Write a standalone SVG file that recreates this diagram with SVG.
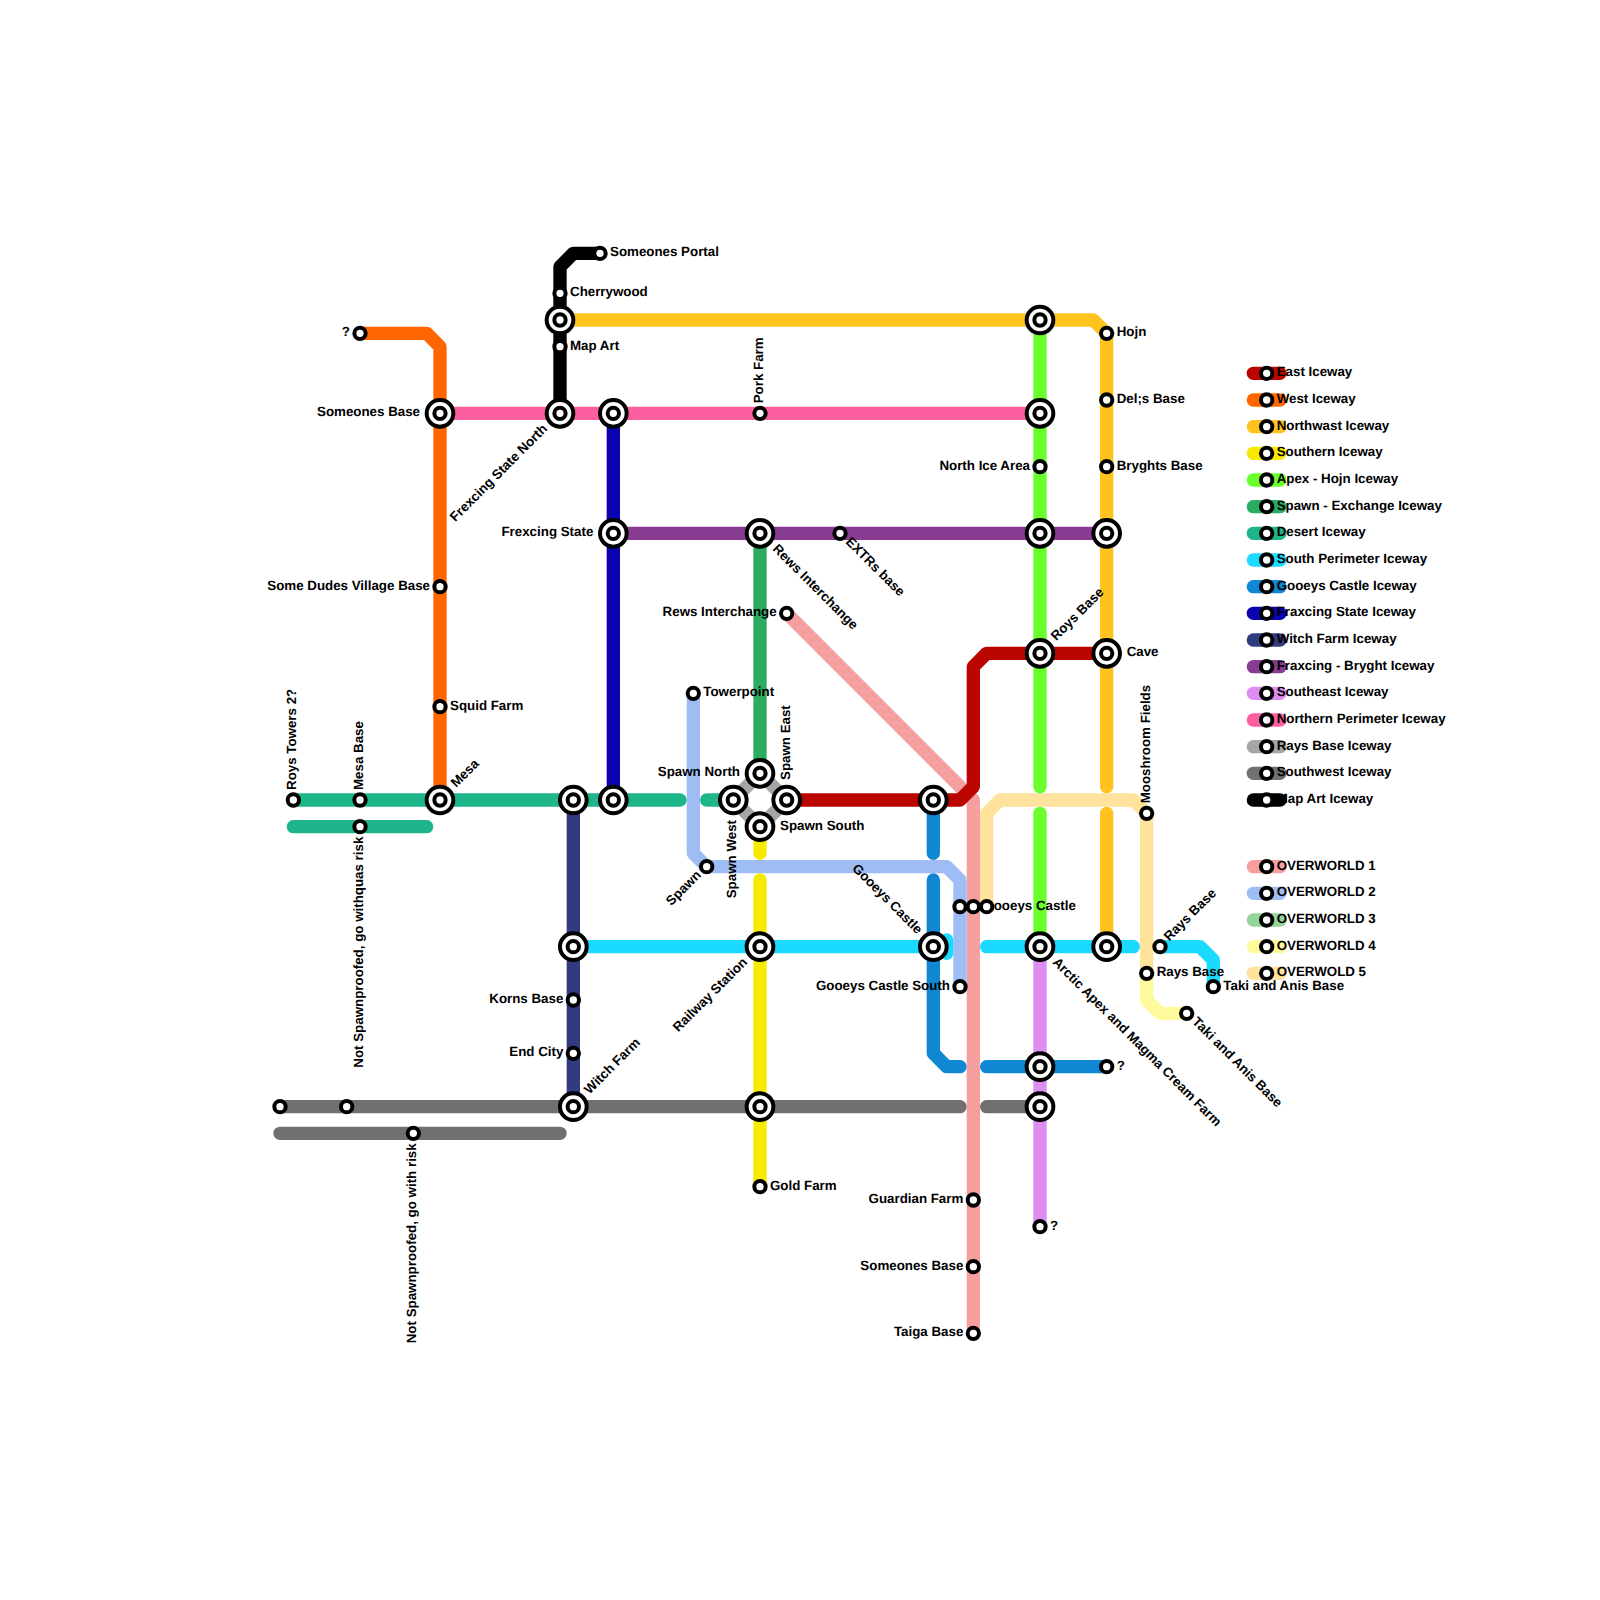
<svg xmlns="http://www.w3.org/2000/svg" width="1600" height="1600" viewBox="0 0 1600 1600">
<style>
.l{fill:none;stroke-width:1;stroke-linecap:round;stroke-linejoin:round}
.a{stroke:#bb0600}.b{stroke:#ff6600}.c{stroke:#ffc31f}.d{stroke:#f5ea00}.e{stroke:#6aff2c}.f{stroke:#2bac60}.g{stroke:#1fb58a}.h{stroke:#1adbff}.i{stroke:#0f87d2}.j{stroke:#0a04b0}.k{stroke:#323b80}.m{stroke:#873c92}.n{stroke:#dd8cf2}.o{stroke:#fb5f9f}.p{stroke:#a6a6a6}.q{stroke:#707070}.r{stroke:#000}.s{stroke:#f59f9f}.t{stroke:#9fbdf5}.u{stroke:#93d69b}.v{stroke:#fffa9b}.w{stroke:#ffe29b}
.st{fill:#fff;stroke:#000;stroke-width:4}
text{font-family:"Liberation Sans",Arial,sans-serif;font-weight:bold;font-size:13.33px;fill:#000;text-rendering:geometricPrecision}
.R{text-anchor:start}.E{text-anchor:end}
</style>
<defs>
<circle id="s" class="st" r="5.67"/>
<g id="x"><circle class="st" r="13.33"/><circle class="st" r="5.67"/></g>
</defs>
<rect width="1600" height="1600" fill="#fff"/>
<g id="connectors" transform="scale(13.33333)">
<path class="l s" d="M59 46L73 60V100"/>
<path class="l t" d="M52 52V64L53 65H71L72 66V74"/>
<path class="l v" d="M86 73V75L87 76H89"/>
<path class="l w" d="M74 68V61L75 60H85L86 61V73"/>
<path class="l e" d="M78 24V59M78 61V71"/>
<path class="l n" d="M78 71V92"/>
<path class="l a" d="M59 60H72L73 59V50L74 49H83"/>
<path class="l b" d="M27 25H32L33 26V60"/>
<path class="l c" d="M42 24H82L83 25V59M83 61V71"/>
<path class="l d" d="M57 62V64M57 66V89"/>
<path class="l f" d="M57 40V58"/>
<path class="l g" d="M22 60H51M53 60H55M22 62H32"/>
<path class="l h" d="M43 71H71M71 70.5V71.5M74 71H85M87 71H90L91 72V74"/>
<path class="l i" d="M70 60V64M70 66V79L71 80H72M74 80H83"/>
<path class="l j" d="M46 31V60"/>
<path class="l k" d="M43 60V83"/>
<path class="l m" d="M46 40H83"/>
<path class="l o" d="M33 31H78"/>
<path class="l p" d="M57 58L59 60L57 62L55 60Z"/>
<path class="l q" d="M21 83H72M74 83H78M21 85H42"/>
<path class="l r" d="M42 31V20L43 19H45"/>
</g>
<g id="nodes">
<g id="n-portal" transform="translate(600,253.33)"><use href="#s"/><text x="10" y="3">Someones Portal</text></g>
<g id="n-cherrywood" transform="translate(560,293.33)"><use href="#s"/><text x="10" y="3">Cherrywood</text></g>
<g id="n-42-24" transform="translate(560,320)"><use href="#x"/></g>
<g id="n-mapart" transform="translate(560,346.67)"><use href="#s"/><text x="10" y="3">Map Art</text></g>
<g id="n-q1" transform="translate(360,333.33)"><use href="#s"/><text class="E" x="-10" y="3">?</text></g>
<g id="n-78-24" transform="translate(1040,320)"><use href="#x"/></g>
<g id="n-hojn" transform="translate(1106.67,333.33)"><use href="#s"/><text x="10" y="3">Hojn</text></g>
<g id="n-del" transform="translate(1106.67,400)"><use href="#s"/><text x="10" y="3">Del;s Base</text></g>
<g id="n-bryghts" transform="translate(1106.67,466.67)"><use href="#s"/><text x="10" y="3">Bryghts Base</text></g>
<g id="n-someones" transform="translate(440,413.33)"><use href="#x"/><text class="E" x="-20" y="3">Someones Base</text></g>
<g id="n-fsn" transform="translate(560,413.33)"><use href="#x"/><text class="E" transform="rotate(-45)" x="-20" y="3">Frexcing State North</text></g>
<g id="n-46-31" transform="translate(613.33,413.33)"><use href="#x"/></g>
<g id="n-pork" transform="translate(760,413.33)"><use href="#s"/><text transform="rotate(-90)" x="10" y="3">Pork Farm</text></g>
<g id="n-78-31" transform="translate(1040,413.33)"><use href="#x"/></g>
<g id="n-northice" transform="translate(1040,466.67)"><use href="#s"/><text class="E" x="-10" y="3">North Ice Area</text></g>
<g id="n-fs" transform="translate(613.33,533.33)"><use href="#x"/><text class="E" x="-20" y="3">Frexcing State</text></g>
<g id="n-rews" transform="translate(760,533.33)"><use href="#x"/><text transform="rotate(45)" x="20" y="3">Rews Interchange</text></g>
<g id="n-extrs" transform="translate(840,533.33)"><use href="#s"/><text transform="rotate(45)" x="10" y="3">EXTRs base</text></g>
<g id="n-78-40" transform="translate(1040,533.33)"><use href="#x"/></g>
<g id="n-83-40" transform="translate(1106.67,533.33)"><use href="#x"/></g>
<g id="n-dudes" transform="translate(440,586.67)"><use href="#s"/><text class="E" x="-10" y="3">Some Dudes Village Base</text></g>
<g id="n-rews2" transform="translate(786.67,613.33)"><use href="#s"/><text class="E" x="-10" y="3">Rews Interchange</text></g>
<g id="n-roys" transform="translate(1040,653.33)"><use href="#x"/><text transform="rotate(-45)" x="20" y="3">Roys Base</text></g>
<g id="n-cave" transform="translate(1106.67,653.33)"><use href="#x"/><text x="20" y="3">Cave</text></g>
<g id="n-tower" transform="translate(693.33,693.33)"><use href="#s"/><text x="10" y="3">Towerpoint</text></g>
<g id="n-squid" transform="translate(440,706.67)"><use href="#s"/><text x="10" y="3">Squid Farm</text></g>
<g id="n-spawnn" transform="translate(760,773.33)"><use href="#x"/><text class="E" x="-20" y="3">Spawn North</text></g>
<g id="n-spawnw" transform="translate(733.33,800)"><use href="#x"/><text class="E" transform="rotate(-90)" x="-20" y="3">Spawn West</text></g>
<g id="n-spawne" transform="translate(786.67,800)"><use href="#x"/><text transform="rotate(-90)" x="20" y="3">Spawn East</text></g>
<g id="n-spawns" transform="translate(760,826.67)"><use href="#x"/><text x="20" y="3">Spawn South</text></g>
<g id="n-royst" transform="translate(293.33,800)"><use href="#s"/><text transform="rotate(-90)" x="10" y="3">Roys Towers 2?</text></g>
<g id="n-mesab" transform="translate(360,800)"><use href="#s"/><text transform="rotate(-90)" x="10" y="3">Mesa Base</text></g>
<g id="n-mesa" transform="translate(440,800)"><use href="#x"/><text transform="rotate(-45)" x="20" y="3">Mesa</text></g>
<g id="n-43-60" transform="translate(573.33,800)"><use href="#x"/></g>
<g id="n-46-60" transform="translate(613.33,800)"><use href="#x"/></g>
<g id="n-70-60" transform="translate(933.33,800)"><use href="#x"/></g>
<g id="n-moosh" transform="translate(1146.67,813.33)"><use href="#s"/><text transform="rotate(-90)" x="10" y="3">Mooshroom Fields</text></g>
<g id="n-nsp1" transform="translate(360,826.67)"><use href="#s"/><text class="E" transform="rotate(-90)" x="-10" y="3">Not Spawnproofed, go withquas risk</text></g>
<g id="n-spawn" transform="translate(706.67,866.67)"><use href="#s"/><text class="E" transform="rotate(-45)" x="-10" y="3">Spawn</text></g>
<g id="n-72-68" transform="translate(960,906.67)"><use href="#s"/></g>
<g id="n-gc2" transform="translate(973.33,906.67)"><use href="#s"/><text x="10" y="3">Gooeys Castle</text></g>
<g id="n-74-68" transform="translate(986.67,906.67)"><use href="#s"/></g>
<g id="n-43-71" transform="translate(573.33,946.67)"><use href="#x"/></g>
<g id="n-rail" transform="translate(760,946.67)"><use href="#x"/><text class="E" transform="rotate(-45)" x="-20" y="3">Railway Station</text></g>
<g id="n-gc" transform="translate(933.33,946.67)"><use href="#x"/><text class="E" transform="rotate(45)" x="-20" y="3">Gooeys Castle</text></g>
<g id="n-arctic" transform="translate(1040,946.67)"><use href="#x"/><text transform="rotate(45)" x="20" y="3">Arctic Apex and Magma Cream Farm</text></g>
<g id="n-83-71" transform="translate(1106.67,946.67)"><use href="#x"/></g>
<g id="n-rays1" transform="translate(1160,946.67)"><use href="#s"/><text transform="rotate(-45)" x="10" y="3">Rays Base</text></g>
<g id="n-rays2" transform="translate(1146.67,973.33)"><use href="#s"/><text x="10" y="3">Rays Base</text></g>
<g id="n-gcs" transform="translate(960,986.67)"><use href="#s"/><text class="E" x="-10" y="3">Gooeys Castle South</text></g>
<g id="n-taki1" transform="translate(1213.33,986.67)"><use href="#s"/><text x="10" y="3">Taki and Anis Base</text></g>
<g id="n-taki2" transform="translate(1186.67,1013.33)"><use href="#s"/><text transform="rotate(45)" x="10" y="3">Taki and Anis Base</text></g>
<g id="n-korns" transform="translate(573.33,1000)"><use href="#s"/><text class="E" x="-10" y="3">Korns Base</text></g>
<g id="n-end" transform="translate(573.33,1053.33)"><use href="#s"/><text class="E" x="-10" y="3">End City</text></g>
<g id="n-78-80" transform="translate(1040,1066.67)"><use href="#x"/></g>
<g id="n-q2" transform="translate(1106.67,1066.67)"><use href="#s"/><text x="10" y="3">?</text></g>
<g id="n-21-83" transform="translate(280,1106.67)"><use href="#s"/></g>
<g id="n-26-83" transform="translate(346.67,1106.67)"><use href="#s"/></g>
<g id="n-witch" transform="translate(573.33,1106.67)"><use href="#x"/><text transform="rotate(-45)" x="20" y="3">Witch Farm</text></g>
<g id="n-57-83" transform="translate(760,1106.67)"><use href="#x"/></g>
<g id="n-78-83" transform="translate(1040,1106.67)"><use href="#x"/></g>
<g id="n-nsp2" transform="translate(413.33,1133.33)"><use href="#s"/><text class="E" transform="rotate(-90)" x="-10" y="3">Not Spawnproofed, go with risk</text></g>
<g id="n-gold" transform="translate(760,1186.67)"><use href="#s"/><text x="10" y="3">Gold Farm</text></g>
<g id="n-guardian" transform="translate(973.33,1200)"><use href="#s"/><text class="E" x="-10" y="3">Guardian Farm</text></g>
<g id="n-q3" transform="translate(1040,1226.67)"><use href="#s"/><text x="10" y="3">?</text></g>
<g id="n-someones2" transform="translate(973.33,1266.67)"><use href="#s"/><text class="E" x="-10" y="3">Someones Base</text></g>
<g id="n-taiga" transform="translate(973.33,1333.33)"><use href="#s"/><text class="E" x="-10" y="3">Taiga Base</text></g>
</g>
<g id="legend">
<g transform="translate(1266.67,373.33)"><path class="l a" transform="scale(13.33333)" d="M-1 0H1"/><use href="#s"/><text x="10" y="3">East Iceway</text></g>
<g transform="translate(1266.67,400)"><path class="l b" transform="scale(13.33333)" d="M-1 0H1"/><use href="#s"/><text x="10" y="3">West Iceway</text></g>
<g transform="translate(1266.67,426.67)"><path class="l c" transform="scale(13.33333)" d="M-1 0H1"/><use href="#s"/><text x="10" y="3">Northwast Iceway</text></g>
<g transform="translate(1266.67,453.33)"><path class="l d" transform="scale(13.33333)" d="M-1 0H1"/><use href="#s"/><text x="10" y="3">Southern Iceway</text></g>
<g transform="translate(1266.67,480)"><path class="l e" transform="scale(13.33333)" d="M-1 0H1"/><use href="#s"/><text x="10" y="3">Apex - Hojn Iceway</text></g>
<g transform="translate(1266.67,506.67)"><path class="l f" transform="scale(13.33333)" d="M-1 0H1"/><use href="#s"/><text x="10" y="3">Spawn - Exchange Iceway</text></g>
<g transform="translate(1266.67,533.33)"><path class="l g" transform="scale(13.33333)" d="M-1 0H1"/><use href="#s"/><text x="10" y="3">Desert Iceway</text></g>
<g transform="translate(1266.67,560)"><path class="l h" transform="scale(13.33333)" d="M-1 0H1"/><use href="#s"/><text x="10" y="3">South Perimeter Iceway</text></g>
<g transform="translate(1266.67,586.67)"><path class="l i" transform="scale(13.33333)" d="M-1 0H1"/><use href="#s"/><text x="10" y="3">Gooeys Castle Iceway</text></g>
<g transform="translate(1266.67,613.33)"><path class="l j" transform="scale(13.33333)" d="M-1 0H1"/><use href="#s"/><text x="10" y="3">Fraxcing State Iceway</text></g>
<g transform="translate(1266.67,640)"><path class="l k" transform="scale(13.33333)" d="M-1 0H1"/><use href="#s"/><text x="10" y="3">Witch Farm Iceway</text></g>
<g transform="translate(1266.67,666.67)"><path class="l m" transform="scale(13.33333)" d="M-1 0H1"/><use href="#s"/><text x="10" y="3">Fraxcing - Bryght Iceway</text></g>
<g transform="translate(1266.67,693.33)"><path class="l n" transform="scale(13.33333)" d="M-1 0H1"/><use href="#s"/><text x="10" y="3">Southeast Iceway</text></g>
<g transform="translate(1266.67,720)"><path class="l o" transform="scale(13.33333)" d="M-1 0H1"/><use href="#s"/><text x="10" y="3">Northern Perimeter Iceway</text></g>
<g transform="translate(1266.67,746.67)"><path class="l p" transform="scale(13.33333)" d="M-1 0H1"/><use href="#s"/><text x="10" y="3">Rays Base Iceway</text></g>
<g transform="translate(1266.67,773.33)"><path class="l q" transform="scale(13.33333)" d="M-1 0H1"/><use href="#s"/><text x="10" y="3">Southwest Iceway</text></g>
<g transform="translate(1266.67,800)"><path class="l r" transform="scale(13.33333)" d="M-1 0H1"/><use href="#s"/><text x="10" y="3">Map Art Iceway</text></g>
<g transform="translate(1266.67,866.67)"><path class="l s" transform="scale(13.33333)" d="M-1 0H1"/><use href="#s"/><text x="10" y="3">OVERWORLD 1</text></g>
<g transform="translate(1266.67,893.33)"><path class="l t" transform="scale(13.33333)" d="M-1 0H1"/><use href="#s"/><text x="10" y="3">OVERWORLD 2</text></g>
<g transform="translate(1266.67,920)"><path class="l u" transform="scale(13.33333)" d="M-1 0H1"/><use href="#s"/><text x="10" y="3">OVERWORLD 3</text></g>
<g transform="translate(1266.67,946.67)"><path class="l v" transform="scale(13.33333)" d="M-1 0H1"/><use href="#s"/><text x="10" y="3">OVERWORLD 4</text></g>
<g transform="translate(1266.67,973.33)"><path class="l w" transform="scale(13.33333)" d="M-1 0H1"/><use href="#s"/><text x="10" y="3">OVERWOLD 5</text></g>
</g>
</svg>
